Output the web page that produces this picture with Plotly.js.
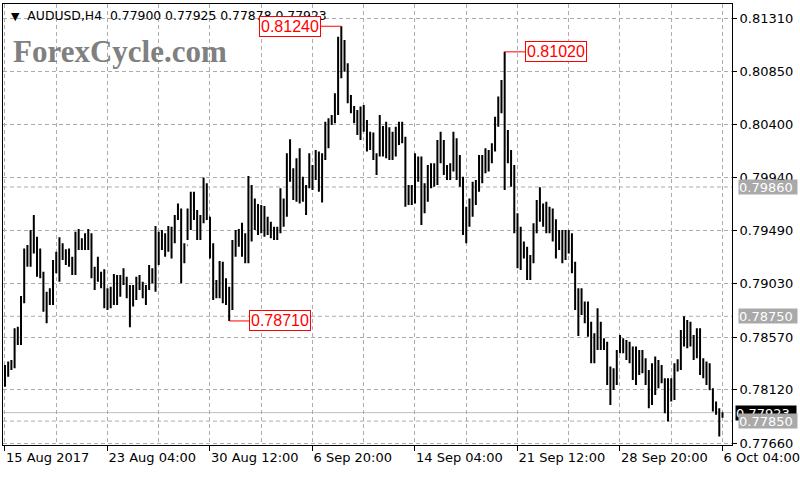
<!DOCTYPE html>
<html><head><meta charset="utf-8">
<script src="https://cdn.plot.ly/plotly-3.0.1.min.js"></script>
<style>html,body{margin:0;padding:0;background:#fff}#chart{width:800px;height:480px}</style>
</head><body><div id="chart"></div>
<script>
// AUDUSD H4 bars, 15 Aug 2017 20:00 .. 6 Oct 2017 04:00
const high = [
0.78332,0.78361,0.78375,0.78647,0.78661,0.78924,0.79333,0.79362,0.79491,0.79619,
0.79433,0.79333,0.79133,0.78961,0.78990,0.79233,0.79305,0.79428,0.79376,0.79325,
0.79333,0.79262,0.79476,0.79499,0.79419,0.79462,0.79499,0.79462,0.79176,0.79262,
0.79133,0.79153,0.78990,0.79004,0.79113,0.79104,0.79104,0.79162,0.79090,0.79019,
0.79019,0.79090,0.79104,0.79047,0.79019,0.79190,0.79162,0.79525,0.79476,0.79491,
0.79462,0.79525,0.79519,0.79619,0.79719,0.79676,0.79376,0.79676,0.79820,0.79820,
0.79662,0.79619,0.79941,0.79892,0.79605,0.79376,0.79062,0.79225,0.79219,0.79076,
0.79004,0.79405,0.79491,0.79499,0.79553,0.79462,0.79955,0.79877,0.79762,0.79714,
0.79705,0.79697,0.79605,0.79562,0.79519,0.79519,0.79849,0.79762,0.80149,0.80270,
0.80020,0.80106,0.80192,0.79949,0.79877,0.80149,0.80049,0.80178,0.80164,0.80149,
0.80421,0.80450,0.80478,0.80664,0.81150,0.81240,0.81122,0.80922,0.80650,0.80556,
0.80521,0.80550,0.80564,0.80436,0.80335,0.80327,0.80149,0.80478,0.80384,0.80421,
0.80372,0.80335,0.80378,0.80421,0.80421,0.80292,0.79877,0.79877,0.80149,0.80121,
0.80121,0.79892,0.80049,0.80064,0.80064,0.80264,0.80335,0.80264,0.80049,0.80064,
0.80335,0.80278,0.80135,0.79949,0.79691,0.79762,0.79906,0.79921,0.80135,0.80135,
0.80192,0.80178,0.80235,0.80464,0.80636,0.80779,0.81020,0.80350,0.80178,0.80049,
0.79634,0.79519,0.79391,0.79348,0.79276,0.79548,0.79748,0.79857,0.79719,0.79734,
0.79691,0.79676,0.79582,0.79491,0.79491,0.79491,0.79491,0.79462,0.79219,0.78990,
0.78990,0.78876,0.78876,0.78704,0.78604,0.78818,0.78704,0.78561,0.78532,0.78318,
0.78304,0.78461,0.78590,0.78561,0.78547,0.78532,0.78490,0.78490,0.78461,0.78461,
0.78389,0.78289,0.78347,0.78404,0.78375,0.78332,0.78218,0.78218,0.78218,0.78347,
0.78382,0.78633,0.78750,0.78719,0.78704,0.78590,0.78647,0.78647,0.78389,0.78361,
0.78347,0.78133,0.78018,0.77961,0.77925
];
const low = [
0.78146,0.78232,0.78289,0.78304,0.78504,0.78504,0.78861,0.79176,0.79176,0.79290,
0.79090,0.79076,0.78790,0.78690,0.78847,0.78847,0.79119,0.79047,0.79233,0.79190,
0.79176,0.79104,0.79104,0.79319,0.79319,0.79319,0.79319,0.79076,0.78976,0.79047,
0.78990,0.78818,0.78804,0.78818,0.78847,0.78847,0.78918,0.79019,0.78904,0.78655,
0.78833,0.78890,0.78976,0.78904,0.78847,0.78976,0.79033,0.78961,0.79190,0.79319,
0.79262,0.79305,0.79247,0.79376,0.79576,0.79033,0.79205,0.79405,0.79491,0.79576,
0.79405,0.79405,0.79548,0.79576,0.79247,0.78890,0.78904,0.78904,0.78861,0.78847,
0.78710,0.78804,0.79262,0.79348,0.79262,0.79205,0.79205,0.79391,0.79491,0.79448,
0.79462,0.79433,0.79448,0.79419,0.79405,0.79405,0.79462,0.79519,0.79605,0.79906,
0.79748,0.79734,0.79719,0.79734,0.79619,0.79849,0.79834,0.79921,0.79820,0.79726,
0.80092,0.80192,0.80392,0.80407,0.80478,0.80793,0.80850,0.80578,0.80493,0.80407,
0.80307,0.80264,0.80335,0.80164,0.80178,0.80092,0.79963,0.80121,0.80121,0.80106,
0.80092,0.80092,0.80121,0.80221,0.80235,0.79691,0.79705,0.79705,0.79719,0.79906,
0.79534,0.79634,0.79734,0.79849,0.79863,0.79877,0.80064,0.79963,0.79921,0.79921,
0.79992,0.79921,0.79863,0.79448,0.79376,0.79519,0.79605,0.79705,0.79820,0.79892,
0.79978,0.79992,0.80064,0.80164,0.80378,0.80493,0.79834,0.80064,0.79863,0.79462,
0.79162,0.79147,0.79247,0.79062,0.79062,0.79205,0.79462,0.79562,0.79519,0.79462,
0.79462,0.79391,0.79247,0.79319,0.79205,0.79233,0.79290,0.79119,0.78804,0.78581,
0.78761,0.78690,0.78575,0.78347,0.78347,0.78461,0.78461,0.78461,0.78161,0.77989,
0.78118,0.78161,0.78432,0.78432,0.78375,0.78347,0.78204,0.78161,0.78246,0.78261,
0.78161,0.77961,0.77989,0.78075,0.78132,0.78175,0.77918,0.77847,0.78018,0.78032,
0.78275,0.78289,0.78490,0.78475,0.78490,0.78375,0.78389,0.78246,0.78218,0.78161,
0.78118,0.77933,0.77904,0.77718,0.77878
];
const open = [
0.7820,0.7830,0.7834,0.7832,0.7860,0.7855,0.7890,0.7930,0.7922,0.7945,
0.7935,0.7912,0.7910,0.7882,0.7895,0.7890,0.7920,0.7915,0.7936,0.7926,
0.7920,0.7924,0.7912,0.7945,0.7934,0.7940,0.7933,0.7944,0.7910,0.7915,
0.7908,0.7910,0.7885,0.7895,0.7898,0.7890,0.7908,0.7905,0.7904,0.7895,
0.7898,0.7900,0.7905,0.7900,0.7895,0.7900,0.7912,0.7906,0.7945,0.7935,
0.7940,0.7935,0.7948,0.7940,0.7960,0.7965,0.7930,0.7936,0.7965,0.7975,
0.7962,0.7945,0.7958,0.7985,0.7960,0.7930,0.7900,0.7905,0.7895,0.7900,
0.7890,0.7888,0.7938,0.7945,0.7940,0.7930,0.7925,0.7980,0.7955,0.7968,
0.7955,0.7962,0.7950,0.7952,0.7945,0.7948,0.7950,0.7970,0.7965,0.8010,
0.7995,0.7985,0.8005,0.7980,0.7985,0.7986,0.7995,0.8000,0.8010,0.7990,
0.8012,0.8030,0.8042,0.8045,0.8060,0.8110,0.8090,0.8088,0.8062,0.8052,
0.8045,0.8048,0.8040,0.8038,0.8020,0.8030,0.8012,0.8014,0.8030,0.8015,
0.8035,0.8012,0.8030,0.8025,0.8040,0.8028,0.7975,0.7985,0.7975,0.8005,
0.8000,0.7970,0.7985,0.7990,0.7995,0.7990,0.8020,0.8010,0.8000,0.7995,
0.8003,0.8020,0.8000,0.7990,0.7960,0.7955,0.7970,0.7985,0.7988,0.8005,
0.8000,0.8015,0.8010,0.8020,0.8042,0.8058,0.8072,0.8015,0.8010,0.7995,
0.7955,0.7925,0.7930,0.7928,0.7910,0.7925,0.7950,0.7970,0.7962,0.7965,
0.7950,0.7960,0.7945,0.7935,0.7945,0.7930,0.7940,0.7935,0.7915,0.7885,
0.7880,0.7878,0.7872,0.7862,0.7840,0.7855,0.7850,0.7848,0.7850,0.7822,
0.7815,0.7825,0.7845,0.7850,0.7845,0.7842,0.7838,0.7825,0.7840,0.7830,
0.7835,0.7820,0.7800,0.7830,0.7815,0.7825,0.7820,0.7795,0.7815,0.7805,
0.7830,0.7835,0.7860,0.7855,0.7865,0.7850,0.7855,0.7845,0.7830,0.7825,
0.7820,0.7812,0.7797,0.7794,0.77900
];
const close = [
0.7830,0.7834,0.7832,0.7860,0.7855,0.7890,0.7930,0.7922,0.7945,0.7935,
0.7912,0.7910,0.7882,0.7895,0.7890,0.7920,0.7915,0.7936,0.7926,0.7920,
0.7924,0.7912,0.7945,0.7934,0.7940,0.7933,0.7944,0.7910,0.7915,0.7908,
0.7910,0.7885,0.7895,0.7898,0.7890,0.7908,0.7905,0.7904,0.7895,0.7898,
0.7900,0.7905,0.7900,0.7895,0.7900,0.7912,0.7906,0.7945,0.7935,0.7940,
0.7935,0.7948,0.7940,0.7960,0.7965,0.7930,0.7936,0.7965,0.7975,0.7962,
0.7945,0.7958,0.7985,0.7960,0.7930,0.7900,0.7905,0.7895,0.7900,0.7890,
0.7888,0.7938,0.7945,0.7940,0.7930,0.7925,0.7980,0.7955,0.7968,0.7955,
0.7962,0.7950,0.7952,0.7945,0.7948,0.7950,0.7970,0.7965,0.8010,0.7995,
0.7985,0.8005,0.7980,0.7985,0.7986,0.7995,0.8000,0.8010,0.7990,0.8012,
0.8030,0.8042,0.8045,0.8060,0.8110,0.8090,0.8088,0.8062,0.8052,0.8045,
0.8048,0.8040,0.8038,0.8020,0.8030,0.8012,0.8014,0.8030,0.8015,0.8035,
0.8012,0.8030,0.8025,0.8040,0.8028,0.7975,0.7985,0.7975,0.8005,0.8000,
0.7970,0.7985,0.7990,0.7995,0.7990,0.8020,0.8010,0.8000,0.7995,0.8003,
0.8020,0.8000,0.7990,0.7960,0.7955,0.7970,0.7985,0.7988,0.8005,0.8000,
0.8015,0.8010,0.8020,0.8042,0.8058,0.8072,0.8015,0.8010,0.7995,0.7955,
0.7925,0.7930,0.7928,0.7910,0.7925,0.7950,0.7970,0.7962,0.7965,0.7950,
0.7960,0.7945,0.7935,0.7945,0.7930,0.7940,0.7935,0.7915,0.7885,0.7880,
0.7878,0.7872,0.7862,0.7840,0.7855,0.7850,0.7848,0.7850,0.7822,0.7815,
0.7825,0.7845,0.7850,0.7845,0.7842,0.7838,0.7825,0.7840,0.7830,0.7835,
0.7820,0.7800,0.7830,0.7815,0.7825,0.7820,0.7795,0.7815,0.7805,0.7830,
0.7835,0.7860,0.7855,0.7865,0.7850,0.7855,0.7845,0.7830,0.7825,0.7820,
0.7812,0.7797,0.7794,0.7790,0.77923
];

// time-axis labels and the bar each one belongs to
const xLabels = ['15 Aug 2017','23 Aug 04:00','30 Aug 12:00','6 Sep 20:00','14 Sep 04:00','21 Sep 12:00','28 Sep 20:00','6 Oct 04:00'];
const xLabelBars = [0, 32, 64, 96, 128, 160, 192, 224];
const yTickLabels = ['0.81310','0.80850','0.80400','0.79940','0.79490','0.79030','0.78570','0.78120','0.77660'];

// horizontal levels and swing points
const levelValues = [0.79860, 0.78750, 0.77850];
const levelLabels = ['0.79860','0.78750','0.77850'];
const lastPrice = 0.77923;
const swingBars = [105, 156, 70];
const swingPrices = [0.81240, 0.81020, 0.78710];
const swingLabels = ['0.81240','0.81020','0.78710'];
const swingSide = [-1, 1, 1];

const bars = high.map((_, i) => i);
const n = bars.length - 1;

const trace = {
  type: 'ohlc', x: bars, open: open, high: high, low: low, close: close,
  increasing: {line: {color: '#000000', width: 2}},
  decreasing: {line: {color: '#000000', width: 2}},
  tickwidth: 0.15, hoverinfo: 'skip', showlegend: false
};

const GRID = '#acacac';
const DASH = '4px,3px';

const shapes = levelValues.map(v => ({
  type: 'line', xref: 'paper', x0: 0, x1: 1, yref: 'y', y0: v, y1: v,
  line: {color: GRID, width: 1, dash: DASH}, layer: 'below'
}));
shapes.push({type: 'line', xref: 'paper', x0: 0, x1: 1, yref: 'y', y0: lastPrice, y1: lastPrice,
  line: {color: '#c0c0c0', width: 1}, layer: 'below'});

const annotations = [];
annotations.push({
  xref: 'paper', yref: 'paper', x: 0, y: 0.9728, xanchor: 'left', yanchor: 'middle', xshift: 6,
  showarrow: false,
  text: '<span style="font-size:11px">▼</span>  AUDUSD,H4  ' + [open[n], high[n], low[n], close[n]].map(v => v.toFixed(5)).join(' '),
  font: {family: 'DejaVu Sans', size: 12.4, color: '#000000'}
});
annotations.push({
  xref: 'paper', yref: 'paper', x: 0, y: 0.893, xanchor: 'left', yanchor: 'middle', xshift: 8,
  showarrow: false, text: '<b>ForexCycle.com</b>',
  font: {family: 'Liberation Serif', size: 31, color: '#808080'}
});
swingBars.forEach((b, k) => {
  annotations.push({
    xref: 'x', yref: 'y', x: b, y: swingPrices[k], text: swingLabels[k],
    showarrow: true, arrowhead: 0, arrowwidth: 1, arrowcolor: '#ff0000',
    ax: 51 * swingSide[k], ay: 0, standoff: 0,
    bordercolor: '#ff0000', borderwidth: 1, borderpad: 1, bgcolor: '#ffffff',
    font: {family: 'Liberation Sans', size: 16, color: '#ff0000'}
  });
});
// current price box (drawn first so level boxes sit on top)
annotations.push({
  xref: 'paper', yref: 'y', x: 1, y: lastPrice, xanchor: 'left', yanchor: 'middle', xshift: 3,
  showarrow: false, text: lastPrice.toFixed(5), align: 'left', width: 60, height: 14,
  bgcolor: '#000000', borderpad: 0, font: {family: 'DejaVu Sans', size: 13, color: '#ffffff'}
});
levelValues.forEach((v, k) => {
  annotations.push({
    xref: 'paper', yref: 'y', x: 1, y: v, xanchor: 'left', yanchor: 'middle', xshift: 6,
    showarrow: false, text: levelLabels[k], align: 'left', width: 58, height: 14,
    bgcolor: '#a9a9a9', borderpad: 0, font: {family: 'DejaVu Sans', size: 13, color: '#ffffff'}
  });
});

const layout = {
  width: 800, height: 480,
  margin: {l: 3, r: 68, t: 4, b: 35, pad: 0},
  paper_bgcolor: '#ffffff', plot_bgcolor: '#ffffff',
  showlegend: false,
  font: {family: 'DejaVu Sans', size: 13, color: '#000000'},
  xaxis: {
    type: 'linear', range: [-0.62, 226.97], rangeslider: {visible: false},
    tickmode: 'array', tickvals: xLabelBars, ticktext: xLabels,
    ticks: 'outside', ticklen: 5, tickcolor: '#000000', tickwidth: 1,
    ticklabelposition: 'outside right',
    showgrid: true, gridcolor: GRID, griddash: DASH, gridwidth: 1,
    minor: {tickmode: 'linear', tick0: 16, dtick: 32, showgrid: true, gridcolor: GRID, griddash: DASH, ticks: ''},
    showline: true, linecolor: '#000000', linewidth: 1, mirror: true, zeroline: false,
    fixedrange: true
  },
  yaxis: {
    side: 'right', range: [0.77645, 0.81431],
    tickmode: 'array', tickvals: yTickLabels.map(Number), ticktext: yTickLabels,
    ticks: 'outside', ticklen: 4, tickcolor: '#000000', tickwidth: 1,
    showgrid: true, gridcolor: GRID, griddash: DASH, gridwidth: 1,
    showline: true, linecolor: '#000000', linewidth: 1, mirror: true, zeroline: false,
    fixedrange: true
  },
  shapes: shapes,
  annotations: annotations
};

Plotly.newPlot('chart', [trace], layout, {displayModeBar: false, staticPlot: true});
</script>
</body></html>
